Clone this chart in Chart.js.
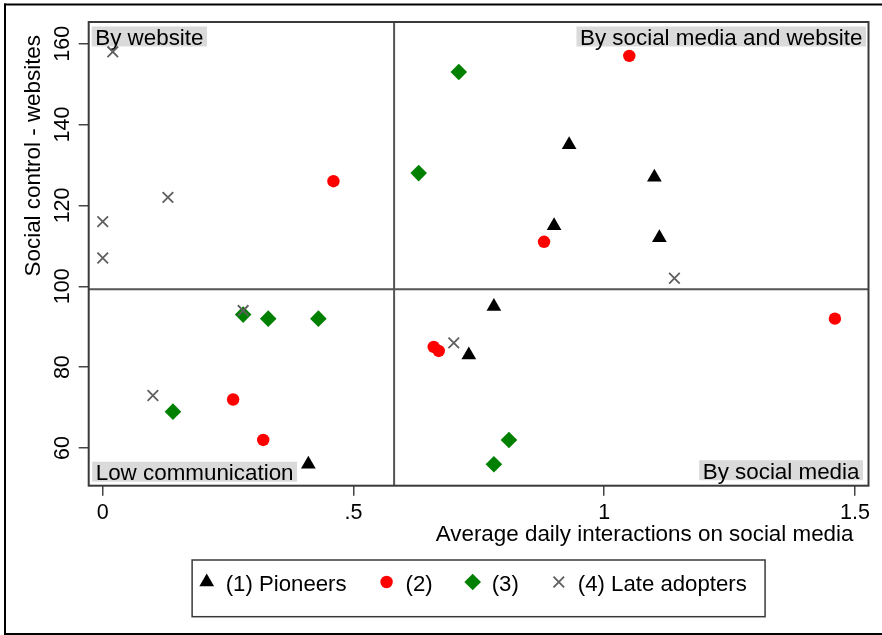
<!DOCTYPE html>
<html>
<head>
<meta charset="utf-8">
<script src="https://cdn.jsdelivr.net/npm/chart.js@4.4.1/dist/chart.umd.min.js"></script>
<style>
  html, body { margin: 0; padding: 0; background: #fff; }
  #wrap { width: 882px; height: 635px; }
</style>
</head>
<body>
<div id="wrap"><canvas id="chart" width="882" height="635"></canvas></div>
<script>
const xTicks = [0, 0.5, 1, 1.5];
const xTickLabels = ["0", ".5", "1", "1.5"];
const yTicks = [60, 80, 100, 120, 140, 160];

const xTitle = "Average daily interactions on social media";
const yTitle = "Social control - websites";

// dividing lines (group means)
const xSplit = 0.581;
const ySplit = 99.25;

const quadrantLabels = ["By website", "By social media and website", "Low communication", "By social media"];

const pioneersX = [0.93, 1.10, 0.90, 1.11, 0.78, 0.73, 0.41];
const pioneersY = [135, 127, 115, 112, 95, 83, 56];

const group2X = [0.46, 1.05, 0.88, 1.46, 0.66, 0.67, 0.26, 0.32];
const group2Y = [126, 157, 111, 92, 85, 84, 72, 62];

const group3X = [0.71, 0.63, 0.28, 0.33, 0.43, 0.14, 0.81, 0.78];
const group3Y = [153, 128, 93, 92, 92, 69, 62, 56];

const lateX = [0.02, 0.13, 0, 0, 1.14, 0.28, 0.70, 0.10];
const lateY = [158, 122, 116, 107, 102, 94, 86, 73];

const fontFamily = '"Liberation Sans", Arial, Helvetica, sans-serif';
const titleSize = 22.4;
const legendSize = 22.2;

function toPoints(xs, ys) {
  return xs.map((x, i) => ({ x, y: ys[i] }));
}

const datasets = [
  {
    label: "(1) Pioneers",
    data: toPoints(pioneersX, pioneersY),
    pointStyle: "triangle",
    pointRadius: 8.5,
    backgroundColor: "#000000",
    borderColor: "#000000",
    borderWidth: 0,
    order: 4,
  },
  {
    label: "(2)",
    data: toPoints(group2X, group2Y),
    pointStyle: "circle",
    pointRadius: 6.2,
    backgroundColor: "#ff0000",
    borderColor: "#ff0000",
    borderWidth: 0,
    order: 3,
  },
  {
    label: "(3)",
    data: toPoints(group3X, group3Y),
    pointStyle: "rectRot",
    pointRadius: 8.3,
    backgroundColor: "#008000",
    borderColor: "#008000",
    borderWidth: 0,
    order: 2,
  },
  {
    label: "(4) Late adopters",
    data: toPoints(lateX, lateY),
    pointStyle: "crossRot",
    pointRadius: 7.5,
    backgroundColor: "#5f5f5f",
    borderColor: "#5f5f5f",
    borderWidth: 1.8,
    order: 1,
  },
];

function drawQuadrantLabel(ctx, text, corner, area) {
  ctx.font = `${titleSize}px ${fontFamily}`;
  const w = ctx.measureText(text).width;
  const boxW = w + 7;
  const boxH = 20;
  let left, top;
  if (corner === "tl") { left = area.left + 3; top = area.top + 4.5; }
  if (corner === "tr") { left = area.right - 2.5 - boxW; top = area.top + 4.5; }
  if (corner === "bl") { left = area.left + 3.5; top = area.bottom - 4 - boxH; }
  if (corner === "br") { left = area.right - 5.5 - boxW; top = area.bottom - 5.5 - boxH; }
  ctx.fillStyle = "#dadada";
  ctx.fillRect(left, top, boxW, boxH);
  ctx.fillStyle = "#000000";
  ctx.textAlign = "left";
  ctx.textBaseline = "alphabetic";
  ctx.fillText(text, left + 3.5, top + boxH - 1.5);
}

const stataDecor = {
  id: "stataDecor",
  beforeDatasetsDraw(chart) {
    const { ctx, chartArea: a, scales } = chart;
    ctx.save();
    const xs = scales.x.getPixelForValue(xSplit);
    const ys = scales.y.getPixelForValue(ySplit);
    ctx.strokeStyle = "#555555";
    ctx.lineWidth = 2;
    ctx.beginPath();
    ctx.moveTo(xs, a.top);
    ctx.lineTo(xs, a.bottom);
    ctx.moveTo(a.left, ys);
    ctx.lineTo(a.right, ys);
    ctx.stroke();

    const corners = ["tl", "tr", "bl", "br"];
    quadrantLabels.forEach((t, i) => drawQuadrantLabel(ctx, t, corners[i], a));

    ctx.strokeStyle = "#3a3a3a";
    ctx.lineWidth = 2;
    ctx.strokeRect(a.left, a.top, a.right - a.left, a.bottom - a.top);
    ctx.restore();
  },
  afterDraw(chart) {
    const { ctx, chartArea: a } = chart;
    ctx.save();

    // axis titles
    ctx.fillStyle = "#000000";
    ctx.font = `${titleSize}px ${fontFamily}`;
    ctx.textBaseline = "middle";
    ctx.textAlign = "right";
    ctx.fillText(xTitle, a.right - 15, 535);
    ctx.save();
    ctx.translate(34, a.top + 13);
    ctx.rotate(-Math.PI / 2);
    ctx.fillText(yTitle, 0, 0);
    ctx.restore();

    // legend
    ctx.font = `${legendSize}px ${fontFamily}`;
    const widths = datasets.map((d) => ctx.measureText(d.label).width);
    const keyToText = 19;
    const textToKey = 40;
    const padL = 14.6;
    const padR = 18.3;
    let content = 0;
    widths.forEach((w, i) => {
      content += keyToText + w + (i < widths.length - 1 ? textToKey : 0);
    });
    const boxW = padL + content + padR;
    const boxLeft = (a.left + a.right) / 2 - boxW / 2;
    const boxTop = 560;
    const boxH = 56.7;
    ctx.strokeStyle = "#3a3a3a";
    ctx.lineWidth = 1.5;
    ctx.strokeRect(boxLeft, boxTop, boxW, boxH);

    let kx = boxLeft + padL;
    datasets.forEach((d, i) => {
      ctx.fillStyle = d.backgroundColor;
      ctx.strokeStyle = d.borderColor;
      ctx.lineWidth = d.borderWidth;
      Chart.helpers.drawPoint(ctx, {
        pointStyle: d.pointStyle,
        radius: d.pointRadius,
        rotation: 0,
        borderWidth: d.borderWidth,
      }, kx, 582);
      ctx.fillStyle = "#000000";
      ctx.textAlign = "left";
      ctx.textBaseline = "alphabetic";
      ctx.fillText(d.label, kx + keyToText, 590.7);
      kx += keyToText + widths[i] + textToKey;
    });

    // outer figure frame
    ctx.fillStyle = "#000000";
    ctx.fillRect(4, 3.5, 878, 2);
    ctx.fillRect(4, 3.5, 2, 631);
    ctx.fillRect(4, 633, 878, 2);
    ctx.restore();
  },
};

new Chart(document.getElementById("chart"), {
  type: "scatter",
  data: { datasets },
  options: {
    responsive: false,
    animation: false,
    devicePixelRatio: 1,
    events: [],
    layout: { padding: { left: 0, right: 13.5, top: 22, bottom: 0 } },
    plugins: {
      legend: { display: false },
      tooltip: { enabled: false },
    },
    scales: {
      x: {
        type: "linear",
        min: -0.028,
        max: 1.527,
        afterBuildTicks: (scale) => {
          scale.ticks = xTicks.map((v) => ({ value: v }));
        },
        afterFit: (scale) => {
          scale.height = 635 - 485.7;
        },
        grid: {
          drawOnChartArea: false,
          drawTicks: true,
          tickLength: 10,
          color: "#444444",
          lineWidth: 1.5,
        },
        border: { display: false },
        ticks: {
          color: "#000000",
          font: { size: 21.5, family: fontFamily },
          padding: 4,
          maxRotation: 0,
          callback: (v) => xTickLabels[xTicks.indexOf(v)],
        },
      },
      y: {
        type: "linear",
        min: 50.68,
        max: 165.37,
        afterBuildTicks: (scale) => {
          scale.ticks = yTicks.map((v) => ({ value: v }));
        },
        afterFit: (scale) => {
          scale.width = 88.7;
        },
        grid: {
          drawOnChartArea: false,
          drawTicks: true,
          tickLength: 10,
          color: "#444444",
          lineWidth: 1.5,
        },
        border: { display: false },
        ticks: {
          color: "#000000",
          font: { size: 21.5, family: fontFamily },
          minRotation: 90,
          maxRotation: 90,
          crossAlign: "center",
          padding: -2,
        },
      },
    },
  },
  plugins: [stataDecor],
});
</script>
</body>
</html>
